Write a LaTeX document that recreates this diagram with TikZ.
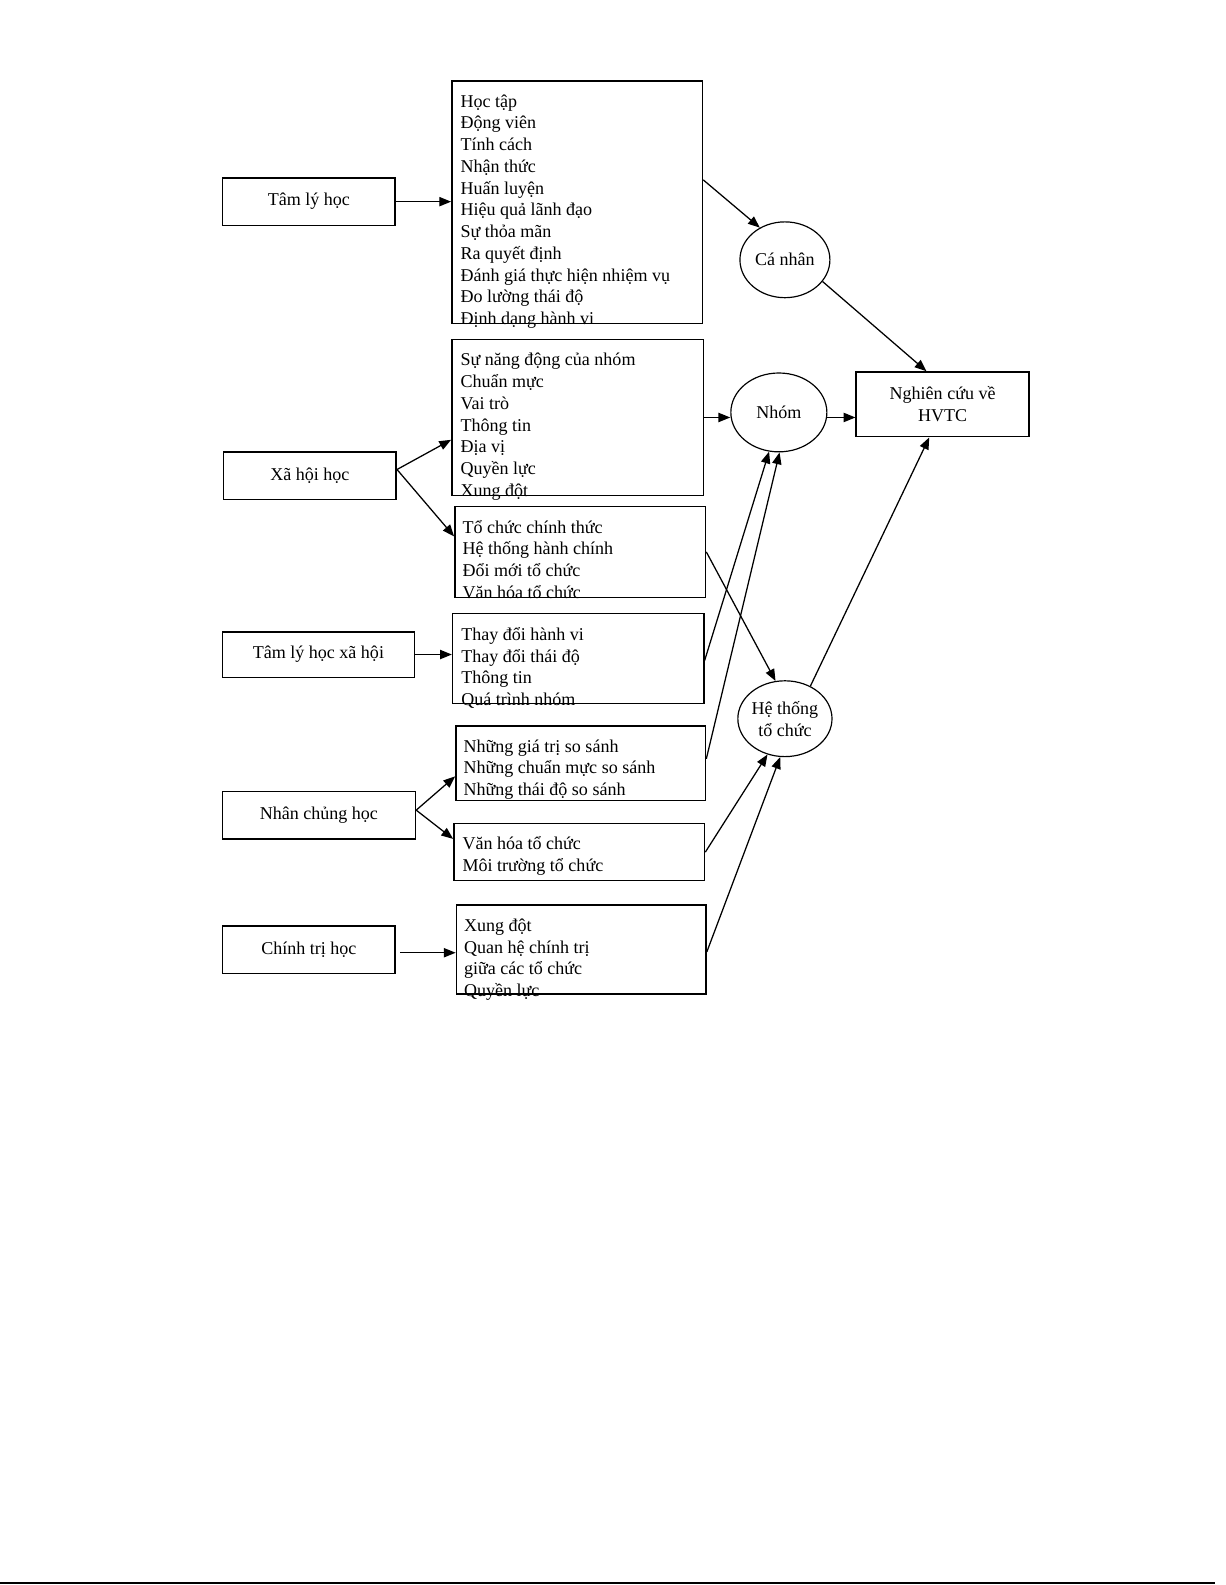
\documentclass[tikz,border=0pt]{standalone}
\usepackage{fontspec}
\setmainfont{Liberation Serif}
\usetikzlibrary{arrows.meta,shapes.geometric}

\begin{document}
\begin{tikzpicture}[x=0.6pt, y=-0.6pt,
    font=\fontsize{10.7}{12.9}\selectfont,
    >={Triangle[length=7pt,width=5.5pt]},
    field/.style={draw, line width=0.9pt, minimum width=102.6pt, minimum height=28.2pt, inner sep=0pt},
    topics/.style={draw, line width=0.9pt, inner sep=0pt},
    items/.style={anchor=north west, align=left, inner sep=0pt},
    level/.style={draw, ellipse, line width=0.7pt, minimum width=53.4pt, minimum height=45pt, inner sep=0pt, align=center},
    link/.style={->, line width=0.75pt}]
    \useasboundingbox (0,0) rectangle (1212,1568);

    % nganh khoa hoc
    \node[field] (tam) at (305.5,199.5) {Tâm lý học};
    \node[field] (xh) at (306.5,470.5) {Xã hội học};
    \node[field, minimum width=114pt, minimum height=27pt] (tx) at (315,647.5) {Tâm lý học xã hội};
    \node[field, minimum width=114.6pt] (nc) at (315.5,806.5) {Nhân chủng học};
    \node[field] (ct) at (305.5,939.5) {Chính trị học};

    % cac chu de
    \node[topics, minimum width=148.8pt, minimum height=144pt] (b1) at (571,200) {};
    \node[topics, minimum width=149.4pt, minimum height=92.4pt] (b2) at (571.5,413) {};
    \node[topics, minimum width=148.8pt, minimum height=54pt] (b3) at (574,546) {};
    \node[topics, minimum width=149.1pt, minimum height=53.4pt] (b4) at (572,651.5) {};
    \node[topics, minimum width=148.2pt, minimum height=44.4pt] (b5) at (574.5,755) {};
    \node[topics, minimum width=148.8pt, minimum height=33.9pt] (b6) at (573,843) {};
    \node[topics, minimum width=148.2pt, minimum height=52.8pt] (b7) at (575,939.5) {};

    \node[items] (t1) at ([shift={(9,14)}]b1.north west) {Học tập\\Động viên\\Tính cách\\Nhận thức\\Huấn luyện\\Hiệu quả lãnh đạo\\Sự thỏa mãn\\Ra quyết định\\Đánh giá thực hiện nhiệm vụ\\Đo lường thái độ\\Định dạng hành vi};
    \node[items] (t2) at ([shift={(9,14)}]b2.north west) {Sự năng động của nhóm\\Chuẩn mực\\Vai trò\\Thông tin\\Địa vị\\Quyền lực\\Xung đột};
    \node[items] (t3) at ([shift={(8,14)}]b3.north west) {Tổ chức chính thức\\Hệ thống hành chính\\Đổi mới tổ chức\\Văn hóa tổ chức};
    \node[items] (t4) at ([shift={(9,14)}]b4.north west) {Thay đổi hành vi\\Thay đổi thái độ\\Thông tin\\Quá trình nhóm};
    \node[items] (t5) at ([shift={(8,14)}]b5.north west) {Những giá trị so sánh\\Những chuẩn mực so sánh\\Những thái độ so sánh};
    \node[items] (t6) at ([shift={(9,13)}]b6.north west) {Văn hóa tổ chức\\Môi trường tổ chức};
    \node[items] (t7) at ([shift={(8,14)}]b7.north west) {Xung đột\\Quan hệ chính trị\\giữa các tổ chức\\Quyền lực};

    % cap do
    \node[level] (can) at (776.5,257) {Cá nhân};
    \node[level, minimum width=57pt, minimum height=46.8pt] (nh) at (770.5,408) {Nhóm};
    \node[level] (ht) at (776.5,711) {Hệ thống\\tổ chức};
    \node[field, minimum height=38.4pt, align=center] (hv) at (932.5,400) {Nghiên cứu về\\HVTC};

    \draw[link] (tam.east) -- (tam.east -| b1.west);
    \draw[link] (xh.4) -- (b2.190);
    \draw[link] (xh.4) -- (b3.173);
    \draw[link] (tx.east) -- (tx.east -| b4.west);
    \draw[link] (nc.3) -- (b5.186);
    \draw[link] (nc.3) -- (b6.174);
    \draw[link] ([xshift=2.4pt]ct.-2) -- (ct.-2 -| b7.west);

    \draw[link] (b1.10) -- (can.128);
    \draw[link] (b2.east) -- (b2.east -| nh.west);
    \draw[link] (b3.east) -- (ht.104);
    \draw[link] (b4.-1) -- (nh.-104);
    \draw[link] (b5.2) -- (nh.-89);
    \draw[link] (b6.east) -- (ht.-116);
    \draw[link] (b7.-1) -- (ht.-97);

    \draw[link] (can.-30) -- (hv.116);
    \draw[link] (b2.east -| nh.east) -- (b2.east -| hv.west);
    \draw[link] (ht.52) -- (hv.-112);

    \draw[line width=1.2pt] (0,1566) -- (1202,1566);
\end{tikzpicture}
\end{document}
